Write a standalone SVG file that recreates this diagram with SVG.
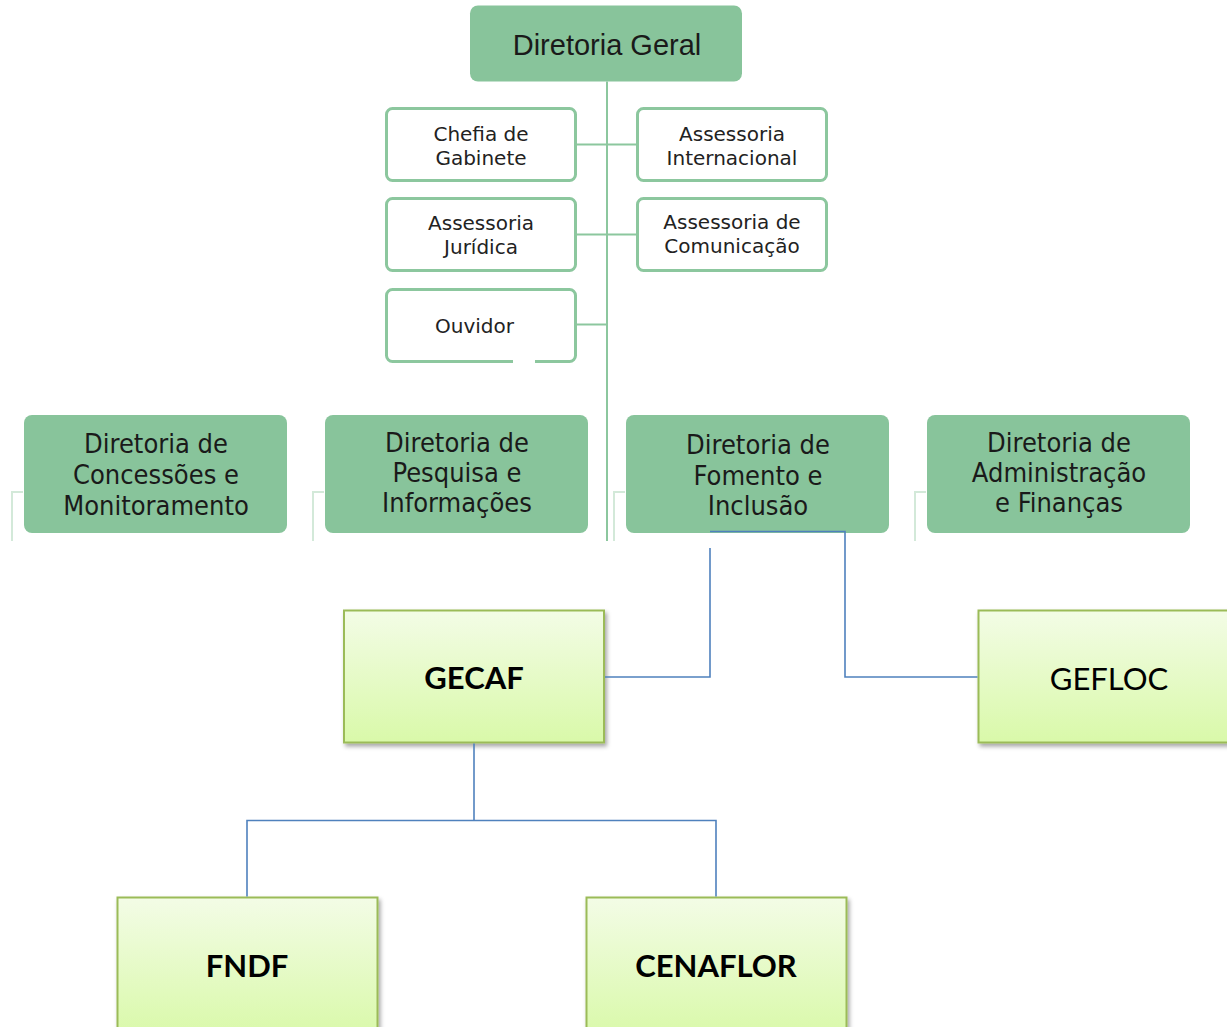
<svg xmlns="http://www.w3.org/2000/svg" width="1227" height="1027" viewBox="0 0 1227 1027">
  <defs>
    <linearGradient id="lime" x1="0" y1="0" x2="0" y2="1">
      <stop offset="0" stop-color="#f3fce6"/>
      <stop offset="1" stop-color="#d9f9a9"/>
    </linearGradient>
    <filter id="shadow" x="-10%" y="-10%" width="125%" height="125%">
      <feDropShadow dx="2" dy="3" stdDeviation="2" flood-color="#000" flood-opacity="0.35"/>
    </filter>
    <style>
      .dir { fill: #88c49b; }
      .sub { fill: #ffffff; stroke: #8cc79e; stroke-width: 3; }
      .gline { stroke: #8cc79e; stroke-width: 2; fill: none; }
      .faint { stroke: #d3e9d9; stroke-width: 2; fill: none; }
      .bline { stroke: #4f81bd; stroke-width: 1.6; fill: none; }
      .lime { fill: url(#lime); stroke: #9bbb59; stroke-width: 2; filter: url(#shadow); }
      .t-geral { font-family: "Liberation Sans", Arial, sans-serif; font-size: 29px; fill: #1a1a1a; text-anchor: middle; }
      .t-sub { font-family: "DejaVu Sans", Verdana, sans-serif; font-size: 20px; fill: #222; text-anchor: middle; }
      .t-dir { font-family: "DejaVu Sans Condensed", "DejaVu Sans", Tahoma, sans-serif; font-size: 27px; fill: #1a1a1a; text-anchor: middle; }
      .t-lime-b { font-family: Lato, "Liberation Sans", sans-serif; font-weight: bold; font-size: 31px; fill: #000; text-anchor: middle; }
      .t-lime { font-family: Lato, "Liberation Sans", sans-serif; font-size: 31px; fill: #000; text-anchor: middle; }
    </style>
  </defs>

  <g id="diretoria-geral">
    <rect class="dir" x="470" y="5.5" width="272" height="76" rx="8"/>
    <text class="t-geral" x="607" y="55">Diretoria Geral</text>
  </g>

  <g id="chefia-gabinete">
    <rect class="sub" x="386.5" y="108.5" width="189" height="72" rx="6"/>
    <text class="t-sub" x="481" y="141">Chefia de</text>
    <text class="t-sub" x="481" y="165">Gabinete</text>
  </g>

  <g id="assessoria-internacional">
    <rect class="sub" x="637.5" y="108.5" width="189" height="72" rx="6"/>
    <text class="t-sub" x="732" y="141">Assessoria</text>
    <text class="t-sub" x="732" y="165">Internacional</text>
  </g>

  <g id="assessoria-juridica">
    <rect class="sub" x="386.5" y="198.5" width="189" height="72" rx="6"/>
    <text class="t-sub" x="481" y="230">Assessoria</text>
    <text class="t-sub" x="481" y="254">Jurídica</text>
  </g>

  <g id="assessoria-comunicacao">
    <rect class="sub" x="637.5" y="198.5" width="189" height="72" rx="6"/>
    <text class="t-sub" x="732" y="229">Assessoria de</text>
    <text class="t-sub" x="732" y="253">Comunicação</text>
  </g>

  <g id="ouvidor">
    <rect class="sub" x="386.5" y="289.5" width="189" height="72" rx="6"/>
    <rect x="513" y="358" width="22" height="6" fill="#ffffff"/>
    <text class="t-sub" x="435" y="333" style="text-anchor:start">Ouvidor</text>
  </g>

  <g id="dir-concessoes">
    <rect class="dir" x="24" y="415" width="263" height="118" rx="8"/>
    <text class="t-dir" x="156" y="453">Diretoria de</text>
    <text class="t-dir" x="156" y="484">Concessões e</text>
    <text class="t-dir" x="156" y="515">Monitoramento</text>
  </g>

  <g id="dir-pesquisa">
    <rect class="dir" x="325" y="415" width="263" height="118" rx="8"/>
    <text class="t-dir" x="457" y="452">Diretoria de</text>
    <text class="t-dir" x="457" y="482">Pesquisa e</text>
    <text class="t-dir" x="457" y="512">Informações</text>
  </g>

  <g id="dir-fomento">
    <rect class="dir" x="626" y="415" width="263" height="118" rx="8"/>
    <text class="t-dir" x="758" y="454">Diretoria de</text>
    <text class="t-dir" x="758" y="485">Fomento e</text>
    <text class="t-dir" x="758" y="515">Inclusão</text>
  </g>

  <g id="dir-administracao">
    <rect class="dir" x="927" y="415" width="263" height="118" rx="8"/>
    <text class="t-dir" x="1059" y="452">Diretoria de</text>
    <text class="t-dir" x="1059" y="482">Administração</text>
    <text class="t-dir" x="1059" y="512">e Finanças</text>
  </g>

  <g id="gecaf">
    <rect class="lime" x="344" y="610.5" width="260" height="132"/>
    <text class="t-lime-b" x="474" y="689">GECAF</text>
  </g>

  <g id="gefloc">
    <rect class="lime" x="978.5" y="610.5" width="260" height="132"/>
    <text class="t-lime" x="1109" y="690">GEFLOC</text>
  </g>

  <g id="fndf">
    <rect class="lime" x="117.5" y="897.5" width="260" height="140"/>
    <text class="t-lime-b" x="247" y="977">FNDF</text>
  </g>

  <g id="cenaflor">
    <rect class="lime" x="586.5" y="897.5" width="260" height="140"/>
    <text class="t-lime-b" x="716" y="977">CENAFLOR</text>
  </g>

  <g id="connectors">
    <!-- green org chart lines -->
    <line class="gline" x1="607" y1="81.5" x2="607" y2="541"/>
    <line class="gline" x1="577" y1="144.5" x2="636" y2="144.5"/>
    <line class="gline" x1="577" y1="234.5" x2="636" y2="234.5"/>
    <line class="gline" x1="577" y1="324.5" x2="607" y2="324.5"/>
    <!-- faint brackets to the left of directorates -->
    <path class="faint" d="M23,492 H12 V541"/>
    <path class="faint" d="M324,492 H313 V541"/>
    <path class="faint" d="M625,492 H614 V541"/>
    <path class="faint" d="M926,492 H915 V541"/>
    <!-- blue connectors -->
    <path class="bline" d="M710,531.5 H845 V677 H977.5"/>
    <path class="bline" d="M710,548 V677 H605"/>
    <path class="bline" d="M474,743.5 V820.5"/>
    <path class="bline" d="M247,896.5 V820.5 H716 V896.5"/>
  </g>
</svg>
